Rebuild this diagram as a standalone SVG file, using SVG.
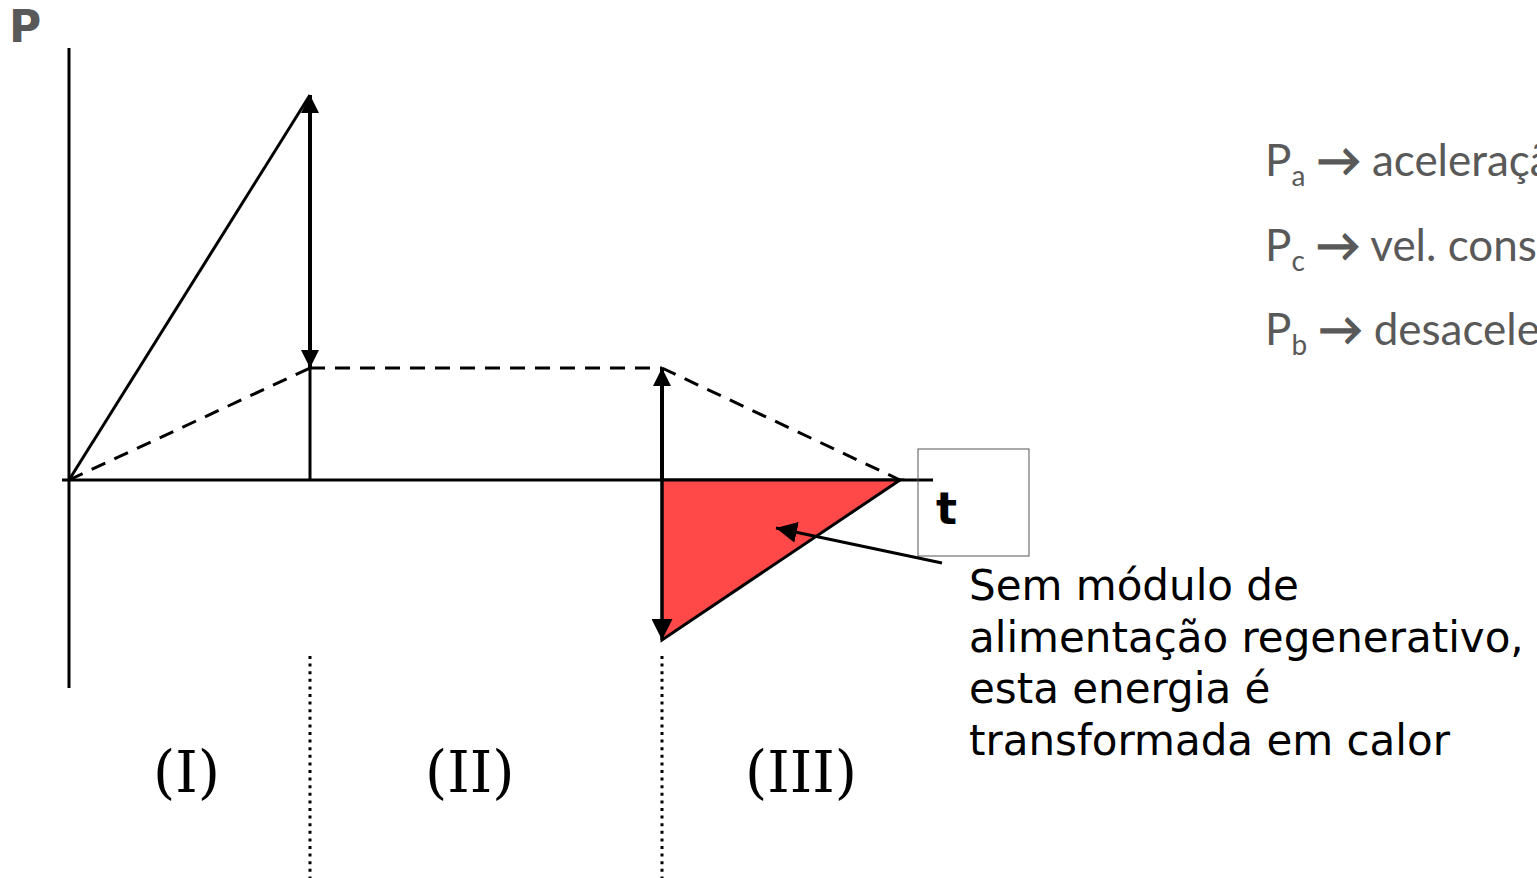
<svg xmlns="http://www.w3.org/2000/svg" width="1537" height="878" viewBox="0 0 1537 878">
<style>
.ax{stroke:#000;stroke-width:3;fill:none}
.dash{stroke:#000;stroke-width:3;fill:none;stroke-dasharray:15 10}
.dot{stroke:#000;stroke-width:3;fill:none;stroke-dasharray:3 4.6}
.arr{stroke:#000;stroke-width:4;fill:none}
.leg{font-family:Lato,"Open Sans",sans-serif;font-size:44px;fill:#595959}
.sub{font-size:28px}
.ar{stroke:#595959;stroke-width:1.6}
.note{font-family:"DejaVu Sans",Verdana,sans-serif;font-size:42px;fill:#000}
.rom{font-family:"DejaVu Serif",serif;font-size:57px;fill:#000}
</style>
<defs>
<marker id="ah" viewBox="0 0 10 10" refX="10" refY="5" markerWidth="4.5" markerHeight="4.5" orient="auto" markerUnits="strokeWidth">
<path d="M0,0 L10,5 L0,10 z" fill="#000"/>
</marker>
<marker id="ah2" viewBox="0 0 10 10" refX="10" refY="5" markerWidth="7" markerHeight="7" orient="auto" markerUnits="strokeWidth">
<path d="M0,0 L10,5 L0,10 z" fill="#000"/>
</marker>
</defs>
<g id="axes">
<line class="ax" x1="69" y1="48" x2="69" y2="688"/>
<line class="ax" x1="62" y1="480" x2="933" y2="480"/>
<text x="9" y="42" font-family="'DejaVu Sans',Verdana,sans-serif" font-weight="bold" font-size="44" fill="#595959">P</text>
<rect x="918" y="449" width="111" height="107" fill="none" stroke="#555" stroke-width="1"/>
<text x="936" y="524" font-family="'DejaVu Sans',Verdana,sans-serif" font-weight="bold" font-size="44" fill="#000">t</text>
</g>
<g id="energy">
<polygon points="662,480 900,480 662,640" fill="#FF4848" stroke="#000" stroke-width="3" stroke-linejoin="miter"/>
</g>
<g id="connectors">
<line class="ax" x1="69" y1="480" x2="310" y2="95"/>
<line class="dash" x1="69" y1="480" x2="310" y2="368"/>
<line class="dash" x1="310" y1="368" x2="662" y2="368"/>
<line class="dash" x1="662" y1="368" x2="900" y2="480"/>
<line class="ax" x1="310" y1="368" x2="310" y2="480"/>
<line class="arr" x1="310" y1="231" x2="310" y2="95" marker-end="url(#ah)"/>
<line class="arr" x1="310" y1="231" x2="310" y2="368" marker-end="url(#ah)"/>
<line class="arr" x1="662" y1="480" x2="662" y2="368" marker-end="url(#ah)"/>
<line class="ax" x1="662" y1="480" x2="662" y2="640" marker-end="url(#ah2)"/>
<line class="dot" x1="310" y1="656" x2="310" y2="878"/>
<line class="dot" x1="662" y1="656" x2="662" y2="878"/>
<line stroke="#000" stroke-width="3" x1="942" y1="563" x2="776" y2="528" marker-end="url(#ah2)"/>
</g>
<g id="legend">
<text class="leg" x="1265" y="176">P<tspan class="sub" dy="10">a</tspan><tspan dy="-10"> </tspan><tspan class="ar">→</tspan> aceleração</text>
<text class="leg" x="1265" y="261">P<tspan class="sub" dy="10">c</tspan><tspan dy="-10"> </tspan><tspan class="ar">→</tspan> vel. constante</text>
<text class="leg" x="1265" y="345">P<tspan class="sub" dy="10">b</tspan><tspan dy="-10"> </tspan><tspan class="ar">→</tspan> desaceleração</text>
</g>
<g id="note">
<text class="note" x="969" y="600">Sem módulo de</text>
<text class="note" x="969" y="652">alimentação regenerativo,</text>
<text class="note" x="969" y="703">esta energia é</text>
<text class="note" x="969" y="755">transformada em calor</text>
</g>
<g id="phases">
<text class="rom" x="153" y="792">(I)</text>
<text class="rom" x="425" y="792">(II)</text>
<text class="rom" x="745" y="792">(III)</text>
</g>
</svg>
